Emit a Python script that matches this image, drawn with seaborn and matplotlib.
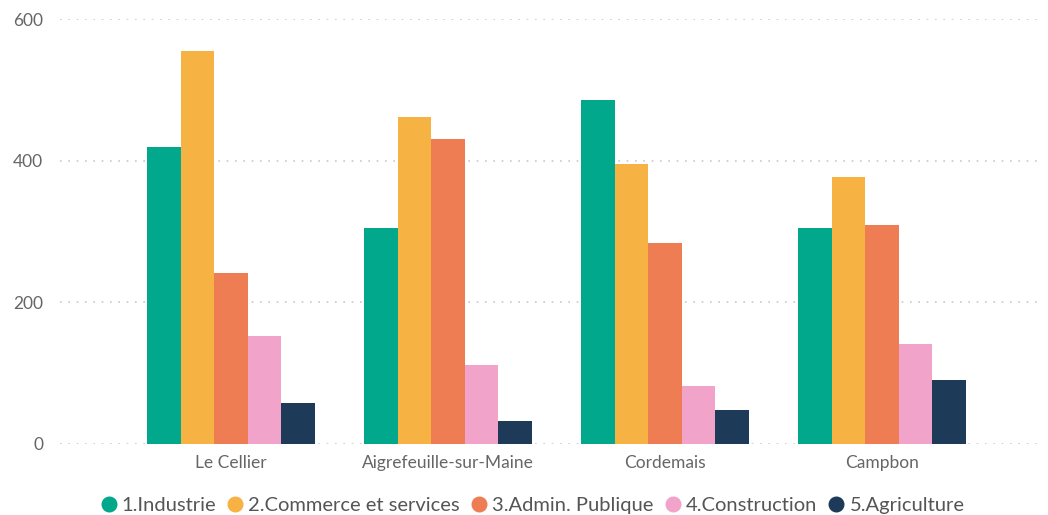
import matplotlib
matplotlib.use("Agg")
import matplotlib.pyplot as plt
import seaborn as sns
import pandas as pd
from matplotlib.lines import Line2D

communes = ["Le Cellier", "Aigrefeuille-sur-Maine", "Cordemais", "Campbon"]
secteurs = ["1.Industrie", "2.Commerce et services", "3.Admin. Publique", "4.Construction", "5.Agriculture"]
industrie = [419, 305, 486, 305]
commerce = [555, 462, 395, 377]
admin = [241, 431, 284, 309]
construction = [152, 112, 82, 141]
agriculture = [58, 32, 48, 90]
couleurs = ["#01A88B", "#F6B243", "#EE7D53", "#F1A3C9", "#1E3A59"]

series = [industrie, commerce, admin, construction, agriculture]
rows = []
for s, vals in zip(secteurs, series):
    for c, v in zip(communes, vals):
        rows.append({"commune": c, "secteur": s, "valeur": v})
df = pd.DataFrame(rows)

sns.set_style("white")
plt.rcParams["font.family"] = ["Lato", "DejaVu Sans"]

fig = plt.figure(figsize=(10.48, 5.15), dpi=100)
ax = fig.add_axes([60/1048, (515-444)/515, (1040-60)/1048, (444-19)/515])

sns.barplot(data=df, x="commune", y="valeur", hue="secteur", order=communes,
            hue_order=secteurs, palette=couleurs, width=0.77, ax=ax,
            saturation=1, legend=False, linewidth=0)

ax.set_ylim(0, 600)
ax.set_xlim(-0.788, 3.728)
ax.set_yticks([0, 200, 400, 600])
ax.set_xlabel("")
ax.set_ylabel("")
ax.yaxis.grid(True, linestyle=(0, (1, 4)), color="#c8c8c8", linewidth=1.2)
ax.set_axisbelow(True)
for sp in ax.spines.values():
    sp.set_visible(False)
ax.tick_params(axis="both", length=0, labelsize=12.5, colors="#666666")
ax.tick_params(axis="y", pad=12)
ax.tick_params(axis="x", pad=8)

handles = [Line2D([0], [0], marker="o", linestyle="", markersize=10.5,
                  markerfacecolor=c, markeredgecolor=c) for c in couleurs]
fig.legend(handles, secteurs, loc="center", bbox_to_anchor=(533/1048, 1 - 505/515),
           ncol=5, frameon=False, fontsize=14.5, handlelength=0.7, handletextpad=0.3,
           columnspacing=0.6, labelcolor="#555555")

fig.savefig("out.png", dpi=100)
